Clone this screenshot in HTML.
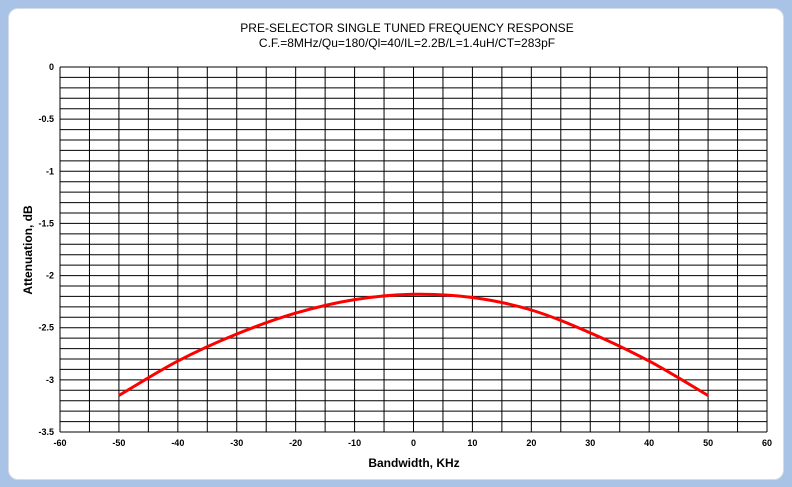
<!DOCTYPE html>
<html><head><meta charset="utf-8"><style>
body{margin:0;width:792px;height:487px;background:#a8c3e6;overflow:hidden;font-family:"Liberation Sans",sans-serif}
#panel{position:absolute;left:8px;top:8px;width:774px;height:470px;background:#fff;border:1px solid #d6dce4;border-radius:10px}
</style></head><body>
<div id="panel"></div>
<svg id="c" width="792" height="487" style="position:absolute;left:0;top:0">
<text x="407" y="32" text-anchor="middle" font-size="12">PRE-SELECTOR SINGLE TUNED FREQUENCY RESPONSE</text>
<text x="407" y="47" text-anchor="middle" font-size="12">C.F.=8MHz/Qu=180/Ql=40/IL=2.2B/L=1.4uH/CT=283pF</text>
<text x="414" y="467" text-anchor="middle" font-size="12" font-weight="bold">Bandwidth, KHz</text>
<text transform="translate(32,250) rotate(-90)" text-anchor="middle" font-size="12" font-weight="bold">Attenuation, dB</text>
<g id="grid"></g><g id="ticks"></g>
</svg>
<script>
const xs=[-50,-40,-30,-20,-10,0,10,20,30,40,50];
const ys=[-3.15,-2.82,-2.56,-2.36,-2.23,-2.18,-2.21,-2.33,-2.55,-2.82,-3.15];
const xTicks=[-60,-50,-40,-30,-20,-10,0,10,20,30,40,50,60];
const yTicks=[0,-0.5,-1,-1.5,-2,-2.5,-3,-3.5];
const L=60,R=767,T=67,B=432;
const X=v=>L+(v+60)/120*(R-L), Y=v=>T+(-v)/3.5*(B-T);
const ns="http://www.w3.org/2000/svg",svg=document.getElementById('c'),g=document.getElementById('grid'),tk=document.getElementById('ticks');
function mk(t,a,p){const e=document.createElementNS(ns,t);for(const k in a)e.setAttribute(k,a[k]);p.appendChild(e);return e;}
for(let i=0;i<=35;i++){const y=Y(-i*0.1);
const e=mk('line',{x1:L,x2:R,y1:y,y2:y,stroke:'#000','stroke-width':1},g);

}
for(let v=-60;v<=60;v+=5){const x=X(v);
const e=mk('line',{x1:x,x2:x,y1:T,y2:B,stroke:'#000','stroke-width':1},g);

}
xTicks.forEach(v=>{const t=mk('text',{x:X(v),y:B+14,'text-anchor':'middle','font-size':9,'font-weight':'bold'},tk);t.textContent=v;

});
yTicks.forEach(v=>{const t=mk('text',{x:L-6,y:Y(v)+3,'text-anchor':'end','font-size':9,'font-weight':'bold'},tk);t.textContent=v;

});
const P=xs.map((v,i)=>[X(v),Y(ys[i])]);
let d='M'+P[0][0].toFixed(1)+','+P[0][1].toFixed(1);
for(let i=0;i<P.length-1;i++){
const p0=P[i-1]||P[i],p1=P[i],p2=P[i+1],p3=P[i+2]||P[i+1];
const c1=[p1[0]+(p2[0]-p0[0])/6,p1[1]+(p2[1]-p0[1])/6];
const c2=[p2[0]-(p3[0]-p1[0])/6,p2[1]-(p3[1]-p1[1])/6];
d+='C'+c1[0].toFixed(1)+','+c1[1].toFixed(1)+' '+c2[0].toFixed(1)+','+c2[1].toFixed(1)+' '+p2[0].toFixed(1)+','+p2[1].toFixed(1);}
const p=mk('path',{d:d,fill:'none',stroke:'#f00','stroke-width':3,'stroke-linejoin':'round'},svg);


</script>
</body></html>
